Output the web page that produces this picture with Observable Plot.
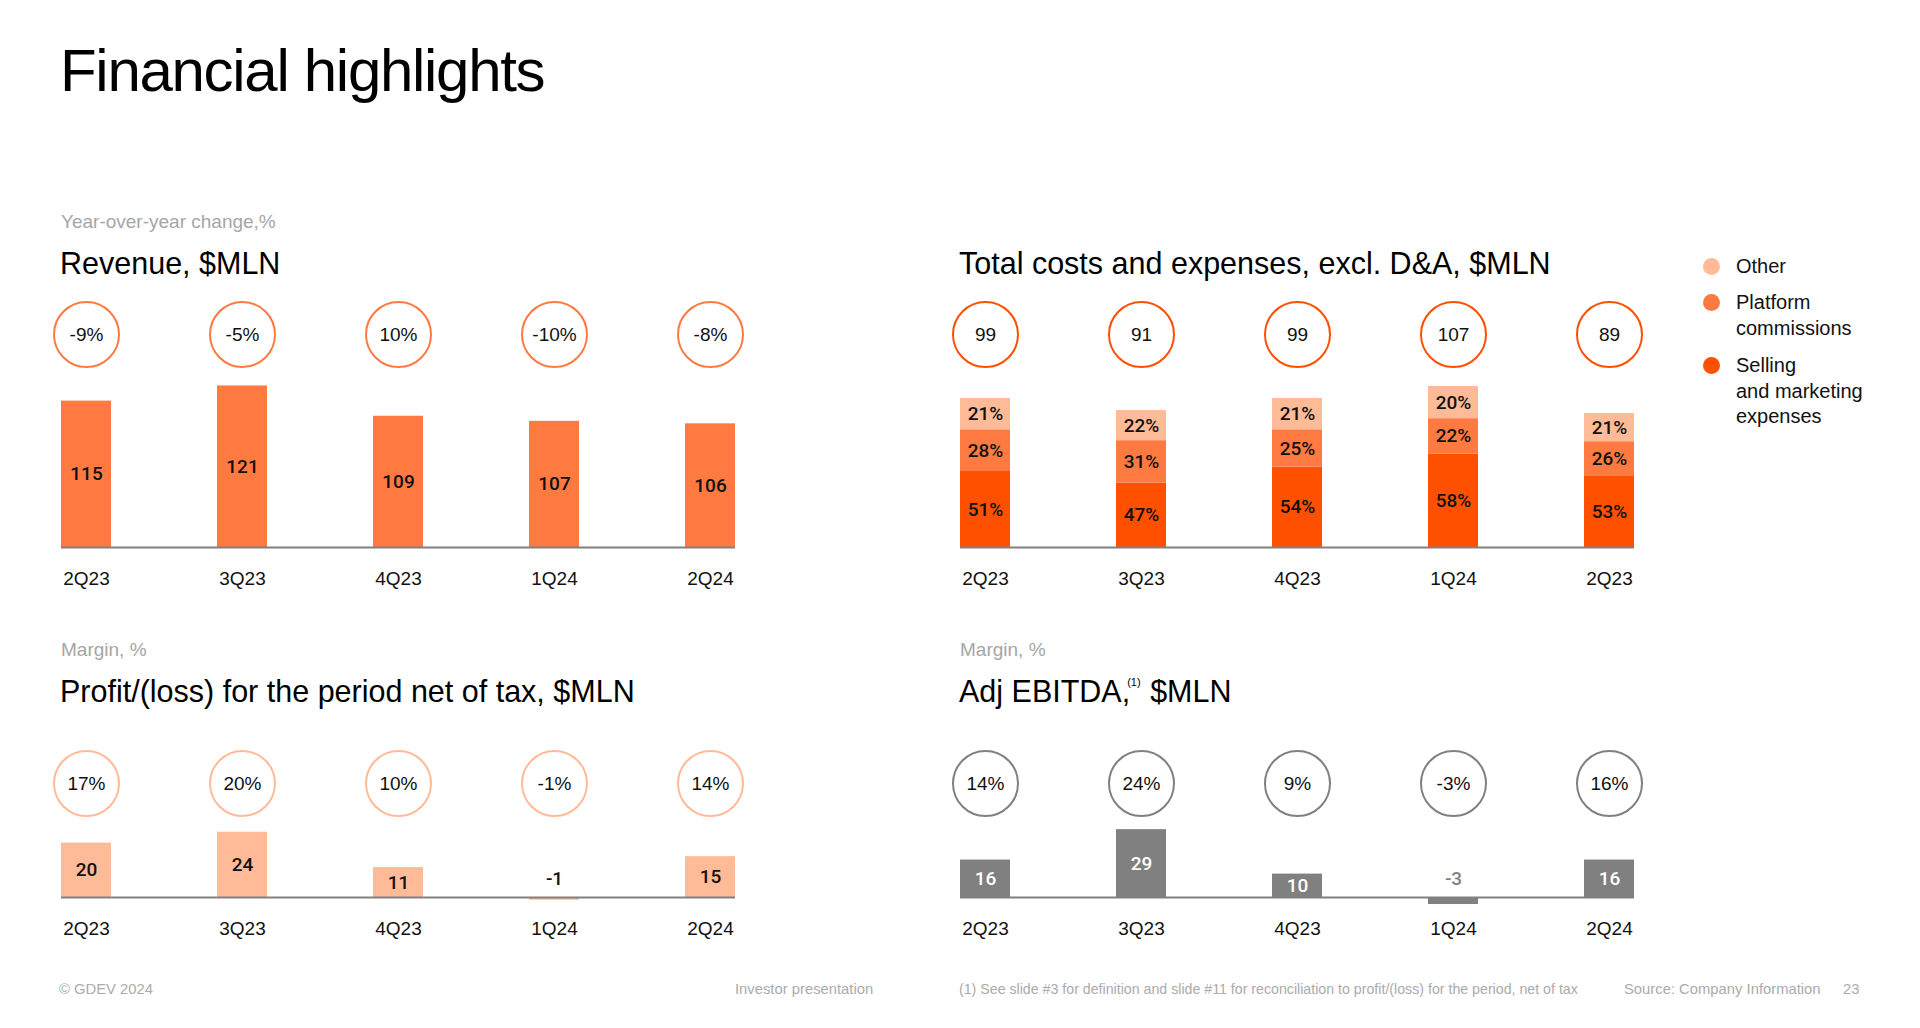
<!DOCTYPE html>
<html>
<head>
<meta charset="utf-8">
<script src="https://cdn.jsdelivr.net/npm/d3@7"></script>
<script src="https://cdn.jsdelivr.net/npm/@observablehq/plot@0.6"></script>
<style>
  html, body { margin: 0; padding: 0; background: #fff; }
  body { width: 1920px; height: 1028px; position: relative; overflow: hidden; font-family: "Liberation Sans", Arial, sans-serif; color: #111; }
  .abs { position: absolute; white-space: nowrap; }
  .main-title { left: 60px; top: 41px; font-size: 60px; line-height: 60px; letter-spacing: -1.3px; color: #000; }
  .sub { font-size: 19px; line-height: 19px; color: #a6a6a6; }
  .ttl { font-size: 30.5px; line-height: 30px; color: #000; }
  .ttl .sup { font-size: 11px; position: relative; top: -16px; margin-left: -3px; margin-right: 1px; }
  .foot { font-size: 14.8px; line-height: 15px; color: #ababab; top: 982px; }
  .legend-item { position: absolute; left: 1700px; font-size: 20px; line-height: 25.5px; color: #111; }
  .legend-item .dot { position: absolute; left: 3px; top: 4px; width: 17px; height: 17px; border-radius: 50%; }
  .legend-item .lbl { position: absolute; left: 36px; top: 0; white-space: nowrap; }
</style>
</head>
<body>
<div class="abs main-title">Financial highlights</div>

<div class="abs sub" style="left:61px; top:212px;">Year-over-year change,%</div>
<div class="abs ttl" style="left:60px; top:248px;">Revenue, $MLN</div>
<div class="abs ttl" style="left:959px; top:248px;">Total costs and expenses, excl. D&amp;A, $MLN</div>

<div class="abs sub" style="left:61px; top:640px;">Margin, %</div>
<div class="abs ttl" style="left:60px; top:676px;">Profit/(loss) for the period net of tax, $MLN</div>
<div class="abs sub" style="left:960px; top:640px;">Margin, %</div>
<div class="abs ttl" style="left:959px; top:676px;">Adj EBITDA,<span class="sup">(1)</span> $MLN</div>

<div class="abs foot" style="left:59px;">© GDEV 2024</div>
<div class="abs foot" style="left:735px;">Investor presentation</div>
<div class="abs foot" style="left:959px; font-size:14.2px;">(1) See slide #3 for definition and slide #11 for reconciliation to profit/(loss) for the period, net of tax</div>
<div class="abs foot" style="left:1624px;">Source: Company Information</div>
<div class="abs foot" style="left:1843px;">23</div>

<div id="legend"></div>

<script>
// ---------- DATA ----------
const quarters = ["2Q23", "3Q23", "4Q23", "1Q24", "2Q24"];
const costQuarters = ["2Q23", "3Q23", "4Q23", "1Q24", "2Q23"];

const revenue = [115, 121, 109, 107, 106];
const revenueYoY = ["-9%", "-5%", "10%", "-10%", "-8%"];

const costTotals = [99, 91, 99, 107, 89];
const costCategories = ["Selling and marketing expenses", "Platform commissions", "Other"];
const legendLabels = [["Other"], ["Platform", "commissions"], ["Selling", "and marketing", "expenses"]];
const sellingPct = [51, 47, 54, 58, 53];
const platformPct = [28, 31, 25, 22, 26];
const otherPct = [21, 22, 21, 20, 21];

const profit = [20, 24, 11, -1, 15];
const profitMargin = ["17%", "20%", "10%", "-1%", "14%"];

const ebitda = [16, 29, 10, -3, 16];
const ebitdaMargin = ["14%", "24%", "9%", "-3%", "16%"];

// ---------- STYLE ----------
const ORANGE = "#FF7A40", RED = "#FF5000", PEACH = "#FFBA98", GRAY = "#808080";
const costColors = [RED, ORANGE, PEACH];
const FONT = "'Liberation Sans', Arial, sans-serif";
const VFONT = "Roboto, 'Liberation Sans', Arial, sans-serif";
const keys = quarters.map((_, i) => "k" + i);

const W = 760, ML = 61, MR = 25;
const xScale = () => ({type: "band", domain: keys, paddingInner: 0.68, paddingOuter: 0, label: null});

function place(node, left, top) {
  const d = document.createElement("div");
  d.className = "abs";
  d.style.left = left + "px";
  d.style.top = top + "px";
  d.appendChild(node);
  document.body.appendChild(d);
}

function circleRow(labels, stroke) {
  return Plot.plot({
    width: W, height: 70, marginLeft: ML, marginRight: MR, marginTop: 0, marginBottom: 0,
    x: {...xScale(), axis: null},
    style: {fontFamily: FONT, background: "transparent", overflow: "visible"},
    marks: [
      Plot.dot(keys, {x: d => d, r: 32.5, stroke, strokeWidth: 2, fill: "none"}),
      Plot.text(keys, {x: d => d, text: (d, i) => labels[i], fontSize: 19, fill: "#111"})
    ]
  });
}

function barPlot({labels, base, k, above, below, marks}) {
  return Plot.plot({
    width: W, height: above + below + 50, marginLeft: ML, marginRight: MR, marginTop: 0, marginBottom: 50,
    x: xScale(),
    y: {domain: [base - below / k, base + above / k], axis: null},
    color: {domain: costCategories, range: costColors},
    style: {fontFamily: FONT, fontSize: "19px", color: "#111", background: "transparent", overflow: "visible"},
    marks: [
      ...marks,
      Plot.ruleY([base], {stroke: GRAY, strokeWidth: 2}),
      Plot.axisX({tickSize: 0, tickPadding: 24 - below, fontSize: 19, label: null, tickFormat: d => labels[keys.indexOf(d)]})
    ]
  });
}

// ---------- REVENUE ----------
const revBase = 57;
const revData = keys.map((key, i) => ({key, v: revenue[i]}));
place(circleRow(revenueYoY, ORANGE), 0, 299);
place(barPlot({
  labels: quarters, base: revBase, k: 2.524, above: 170, below: 0,
  marks: [
    Plot.barY(revData, {x: "key", y1: revBase, y2: "v", fill: ORANGE}),
    Plot.text(revData, {x: "key", y: d => (revBase + d.v) / 2, text: d => String(d.v), fontSize: 19, fontWeight: 500, fontFamily: VFONT, fill: "#111"})
  ]
}), 0, 377);

// ---------- COSTS ----------
const pctSeries = [sellingPct, platformPct, otherPct];
const costData = [];
keys.forEach((key, i) => {
  costCategories.forEach((cat, j) => {
    costData.push({key, cat, pct: pctSeries[j][i], v: costTotals[i] * pctSeries[j][i] / 100});
  });
});
place(circleRow(costTotals.map(String), RED), 899, 299);
place(barPlot({
  labels: costQuarters, base: 0, k: 1.505, above: 170, below: 0,
  marks: [
    Plot.barY(costData, {x: "key", y: "v", fill: "cat", z: "cat"}),
    Plot.text(costData, Plot.stackY({x: "key", y: "v", z: "cat", text: d => d.pct + "%", fontSize: 19, fontWeight: 500, fontFamily: VFONT, fill: "#111"}))
  ]
}), 899, 377);

// ---------- PROFIT ----------
const profData = keys.map((key, i) => ({key, v: profit[i]}));
place(circleRow(profitMargin, PEACH), 0, 748);
place(barPlot({
  labels: quarters, base: 0, k: 2.72, above: 90, below: 10,
  marks: [
    Plot.barY(profData, {x: "key", y: "v", fill: PEACH}),
    Plot.text(profData.filter(d => d.v >= 0), {x: "key", y: d => d.v / 2, text: d => String(d.v), fontSize: 19, fontWeight: 500, fontFamily: VFONT, fill: "#111"}),
    Plot.text(profData.filter(d => d.v < 0), {x: "key", y: d => 0, dy: -19, text: d => String(d.v), fontSize: 19, fontWeight: 500, fontFamily: VFONT, fill: "#111"})
  ]
}), 0, 807);

// ---------- EBITDA ----------
const ebData = keys.map((key, i) => ({key, v: ebitda[i]}));
place(circleRow(ebitdaMargin, GRAY), 899, 748);
place(barPlot({
  labels: quarters, base: 0, k: 2.34, above: 90, below: 10,
  marks: [
    Plot.barY(ebData, {x: "key", y: "v", fill: GRAY}),
    Plot.text(ebData.filter(d => d.v >= 0), {x: "key", y: d => d.v / 2, text: d => String(d.v), fontSize: 19, fontWeight: 500, fontFamily: VFONT, fill: "#fff"}),
    Plot.text(ebData.filter(d => d.v < 0), {x: "key", y: d => 0, dy: -19, text: d => String(d.v), fontSize: 19, fontWeight: 500, fontFamily: VFONT, fill: GRAY})
  ]
}), 899, 807);

// ---------- LEGEND ----------
const legendTops = [254, 290, 353];
const legendColors = [PEACH, ORANGE, RED];
const legend = document.getElementById("legend");
legendLabels.forEach((lines, i) => {
  const item = document.createElement("div");
  item.className = "legend-item";
  item.style.top = legendTops[i] + "px";
  const dot = document.createElement("div");
  dot.className = "dot";
  dot.style.background = legendColors[i];
  const lbl = document.createElement("div");
  lbl.className = "lbl";
  lbl.innerHTML = lines.join("<br>");
  item.appendChild(dot);
  item.appendChild(lbl);
  legend.appendChild(item);
});
</script>
</body>
</html>
